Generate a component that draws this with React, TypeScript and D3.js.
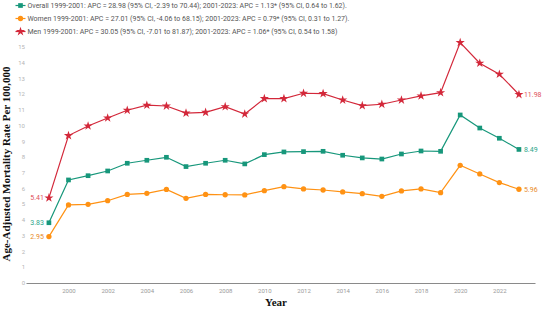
import React, { useEffect, useRef } from "react";
import * as d3 from "d3";

const WIDTH = 546;
const HEIGHT = 311;

const years = d3.range(1999, 2024);
const overall = [3.83, 6.55, 6.82, 7.12, 7.61, 7.8, 7.99, 7.4, 7.61, 7.8, 7.57, 8.16, 8.33, 8.35, 8.37, 8.12, 7.95, 7.88, 8.2, 8.39, 8.37, 10.68, 9.85, 9.2, 8.49];
const women = [2.95, 4.96, 5.0, 5.23, 5.63, 5.7, 5.95, 5.38, 5.63, 5.61, 5.6, 5.87, 6.12, 5.98, 5.91, 5.79, 5.68, 5.51, 5.85, 5.98, 5.74, 7.48, 6.93, 6.38, 5.96];
const men = [5.41, 9.37, 9.98, 10.49, 10.98, 11.3, 11.25, 10.8, 10.85, 11.21, 10.74, 11.72, 11.72, 12.06, 12.04, 11.63, 11.27, 11.36, 11.63, 11.89, 12.1, 15.28, 13.97, 13.27, 11.98];
const yTicks = d3.range(0, 16);
const xTicks = d3.range(2000, 2023, 2);

const series = [
  { name: "overall", values: overall, color: "#17977b", text: "#2aa589", symbol: d3.symbolSquare, size: 22,
    legend: "Overall 1999-2001: APC = 28.98 (95% CI, -2.39 to 70.44); 2001-2023: APC = 1.13* (95% CI, 0.64 to 1.62)." },
  { name: "women", values: women, color: "#ff9214", text: "#e8891f", symbol: d3.symbolCircle, size: 22,
    legend: "Women 1999-2001: APC = 27.01 (95% CI, -4.06 to 68.15); 2001-2023: APC = 0.79* (95% CI, 0.31 to 1.27)." },
  { name: "men", values: men, color: "#d3283a", text: "#e0505c", symbol: d3.symbolStar, size: 26,
    legend: "Men 1999-2001: APC = 30.05 (95% CI, -7.01 to 81.87); 2001-2023: APC = 1.06* (95% CI, 0.54 to 1.58)" },
];

const App: React.FC = () => {
  const ref = useRef<SVGGElement | null>(null);

  useEffect(() => {
    const g = d3.select(ref.current);
    g.selectAll("*").remove();

    const x = d3.scaleLinear().domain([1997.83, 2023.82]).range([26, 535]);
    const y = d3.scaleLinear().domain([0, 15]).range([283, 47]);

    // x axis
    const xAxis = g.append("g").attr("transform", "translate(0,283)")
      .call(d3.axisBottom(x).tickValues(xTicks).tickSize(0).tickPadding(6).tickFormat(d3.format("d")) as any);
    xAxis.select(".domain").attr("stroke", "#8a8a8a").attr("stroke-width", 1.2);
    xAxis.selectAll("text").attr("fill", "#9a9a9a").attr("font-size", 6).attr("font-family", "Roboto");

    // y tick labels
    g.append("g").selectAll("text").data(yTicks).join("text")
      .attr("x", 25).attr("y", (d) => y(d)).attr("dy", "0.35em")
      .attr("text-anchor", "end").attr("fill", "#b5b5b5")
      .attr("font-size", 6).attr("font-family", "Roboto")
      .text((d) => d);

    series.forEach((s) => {
      const line = d3.line<number>().x((_, i) => x(years[i])).y((d) => y(d));
      g.append("path").datum(s.values).attr("d", line)
        .attr("fill", "none").attr("stroke", s.color).attr("stroke-width", 1.2);
      const sym = d3.symbol().type(s.symbol).size(s.size);
      g.append("g").selectAll("path").data(s.values).join("path")
        .attr("transform", (d, i) => `translate(${x(years[i])},${y(d)})`)
        .attr("d", sym as any).attr("fill", s.color);
      const first = s.values[0];
      const last = s.values[s.values.length - 1];
      g.append("text").attr("x", x(years[0]) - 5).attr("y", y(first)).attr("dy", "0.35em")
        .attr("text-anchor", "end").attr("fill", s.text).attr("font-size", 7).attr("font-family", "Roboto")
        .text(first.toFixed(2));
      g.append("text").attr("x", x(years[years.length - 1]) + 5).attr("y", y(last)).attr("dy", "0.35em")
        .attr("fill", s.text).attr("font-size", 7).attr("font-family", "Roboto")
        .text(last.toFixed(2));
    });

    // legend
    series.forEach((s, i) => {
      const ly = 5.5 + i * 13;
      const lg = g.append("g").attr("transform", `translate(15.5,${ly})`);
      lg.append("line").attr("x1", 0).attr("x2", 10).attr("stroke", s.color).attr("stroke-width", 1.2);
      lg.append("path").attr("transform", "translate(5,0)")
        .attr("d", d3.symbol().type(s.symbol).size(s.size)() as string).attr("fill", s.color);
      lg.append("text").attr("x", 12).attr("dy", "0.35em").attr("fill", "#555")
        .attr("font-size", 7).attr("font-family", "Roboto").text(s.legend);
    });

    // axis titles
    g.append("text").attr("transform", "translate(10,164) rotate(-90)")
      .attr("text-anchor", "middle").attr("font-family", "Liberation Serif, Times New Roman, serif")
      .attr("font-weight", "bold").attr("font-size", 11).attr("fill", "#111")
      .text("Age-Adjusted Mortality Rate Per 100,000");
    g.append("text").attr("x", 276).attr("y", 306).attr("text-anchor", "middle")
      .attr("font-family", "Liberation Serif, Times New Roman, serif")
      .attr("font-weight", "bold").attr("font-size", 11).attr("fill", "#111").text("Year");
  }, []);

  return (
    <div style={{ position: "absolute", left: 0, top: 0 }}>
      <svg width={WIDTH} height={HEIGHT} style={{ display: "block", background: "#fff" }}>
        <g ref={ref} />
      </svg>
    </div>
  );
};

export default App;
